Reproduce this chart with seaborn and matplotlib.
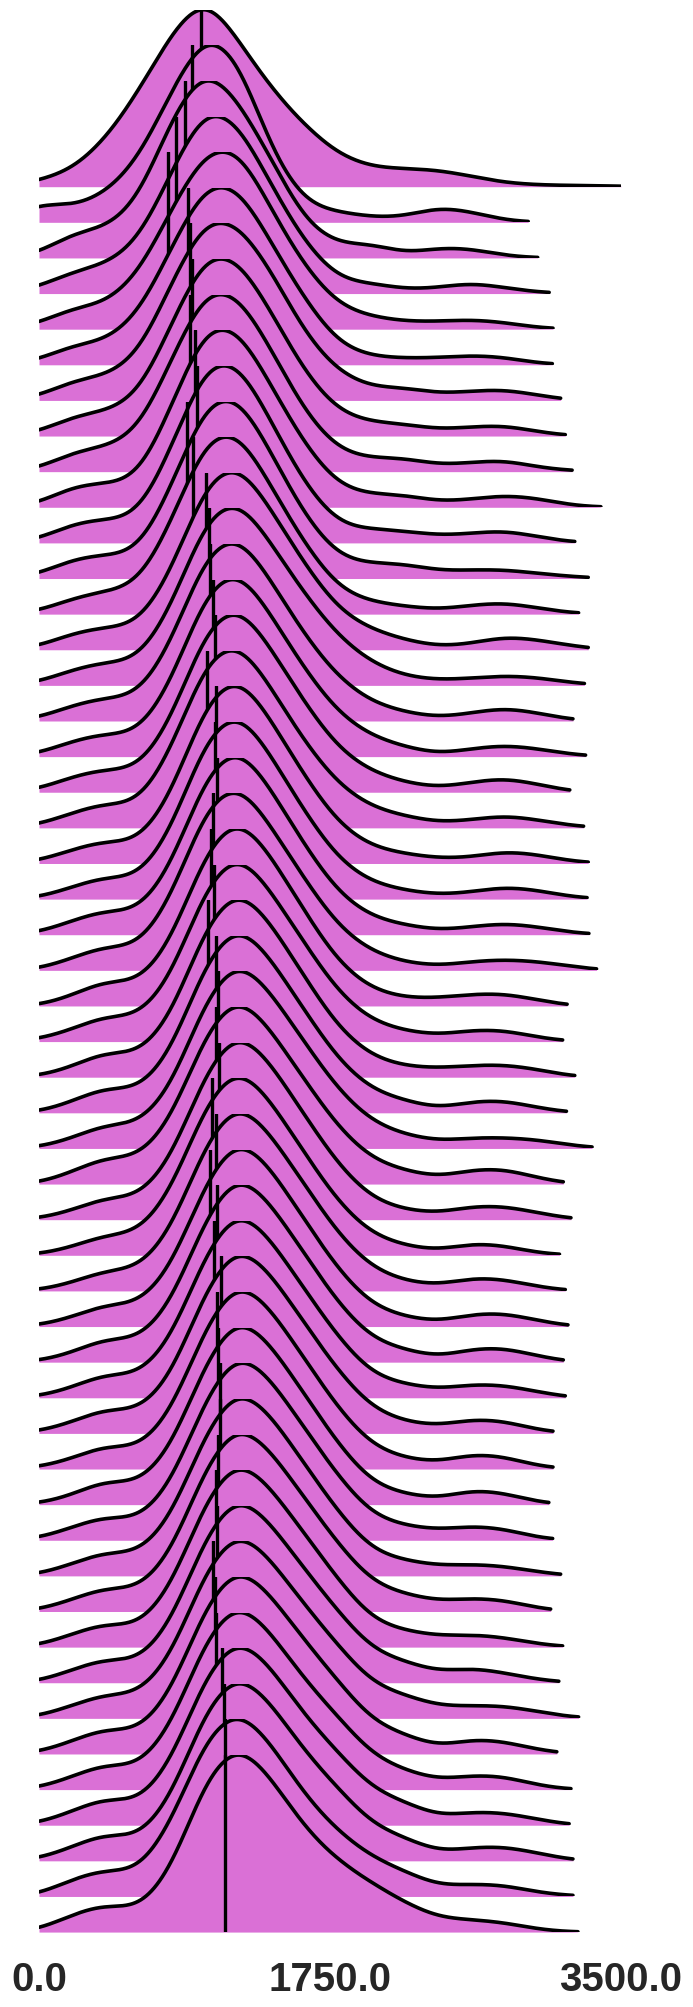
import numpy as np
import seaborn as sns
import matplotlib.pyplot as plt

# support points of every row (same for all), weights per row
support = [0, 200, 400, 600, 800, 1000, 1200, 1400, 1600, 1800,
           2000, 2200, 2400, 2600, 2800, 3000, 3200, 3400]

w01 = [0.03, 0.08, 0.23, 0.47, 0.77, 0.98, 0.72, 0.48, 0.30, 0.155, 0.095, 0.09, 0.084, 0.052, 0.019, 0.009, 0.006, 0.005]
w02 = [0.11, 0.07, 0.14, 0.30, 0.66, 0.98, 0.84, 0.33, 0.08, 0.053, 0.025, 0.025, 0.083, 0.053, 0.008, 0, 0, 0]
w03 = [0.015, 0.13, 0.14, 0.26, 0.70, 0.97, 0.77, 0.48, 0.16, 0.06, 0.077, 0.015, 0.053, 0.047, 0.01, 0, 0, 0]
w04 = [0.03, 0.11, 0.14, 0.24, 0.60, 0.95, 0.85, 0.52, 0.24, 0.06, 0.053, 0.019, 0.028, 0.057, 0.028, 0.006, 0, 0]
w05 = [0.025, 0.11, 0.12, 0.26, 0.60, 0.90, 0.92, 0.58, 0.30, 0.11, 0.062, 0.038, 0.038, 0.049, 0.034, 0.006, 0, 0]
w06 = [0.02, 0.10, 0.11, 0.23, 0.57, 0.90, 0.88, 0.58, 0.31, 0.09, 0.04, 0.032, 0.034, 0.047, 0.038, 0.006, 0, 0]
w07 = [0.015, 0.10, 0.115, 0.20, 0.57, 0.90, 0.86, 0.62, 0.31, 0.13, 0.06, 0.065, 0.03, 0.045, 0.055, 0.025, 0, 0]
w08 = [0.015, 0.10, 0.12, 0.18, 0.55, 0.92, 0.88, 0.60, 0.30, 0.11, 0.068, 0.06, 0.03, 0.045, 0.055, 0.02, 0, 0]
w09 = [0.01, 0.10, 0.12, 0.18, 0.55, 0.92, 0.88, 0.59, 0.28, 0.095, 0.065, 0.07, 0.03, 0.045, 0.06, 0.02, 0.005, 0]
w10 = [0.013, 0.11, 0.12, 0.12, 0.50, 0.93, 0.90, 0.59, 0.30, 0.095, 0.064, 0.064, 0.025, 0.04, 0.062, 0.045, 0.008, 0]
w11 = [0.013, 0.10, 0.12, 0.11, 0.47, 0.92, 0.92, 0.59, 0.28, 0.08, 0.07, 0.06, 0.035, 0.047, 0.065, 0.03, 0.003, 0]
w12 = [0.017, 0.10, 0.12, 0.11, 0.45, 0.90, 0.93, 0.61, 0.30, 0.095, 0.075, 0.075, 0.036, 0.043, 0.045, 0.025, 0.01, 0]
w13 = [0.011, 0.08, 0.115, 0.13, 0.45, 0.90, 0.93, 0.62, 0.34, 0.115, 0.06, 0.04, 0.02, 0.045, 0.06, 0.03, 0.005, 0]
w14 = [0.013, 0.085, 0.115, 0.11, 0.38, 0.86, 0.96, 0.69, 0.42, 0.19, 0.10, 0.05, 0.014, 0.03, 0.07, 0.05, 0.02, 0]
w15 = [0.013, 0.08, 0.12, 0.11, 0.38, 0.86, 0.96, 0.70, 0.45, 0.24, 0.11, 0.045, 0.026, 0.036, 0.05, 0.04, 0.013, 0]
w16 = [0.012, 0.08, 0.12, 0.11, 0.38, 0.86, 0.96, 0.69, 0.42, 0.21, 0.09, 0.045, 0.015, 0.04, 0.07, 0.04, 0.005, 0]
w17 = [0.012, 0.08, 0.12, 0.10, 0.36, 0.85, 0.97, 0.70, 0.43, 0.21, 0.10, 0.05, 0.01, 0.04, 0.06, 0.04, 0.01, 0]
w18 = [0.012, 0.08, 0.12, 0.10, 0.35, 0.84, 0.97, 0.71, 0.44, 0.21, 0.10, 0.05, 0.02, 0.05, 0.075, 0.04, 0.003, 0]
w19 = [0.013, 0.075, 0.13, 0.10, 0.38, 0.86, 0.96, 0.69, 0.42, 0.21, 0.10, 0.06, 0.025, 0.04, 0.065, 0.04, 0.01, 0]
w20 = [0.01, 0.07, 0.12, 0.09, 0.33, 0.83, 0.98, 0.71, 0.43, 0.19, 0.08, 0.05, 0.025, 0.03, 0.065, 0.045, 0.01, 0]
w21 = [0.005, 0.06, 0.12, 0.09, 0.33, 0.83, 0.98, 0.71, 0.43, 0.19, 0.08, 0.045, 0.02, 0.035, 0.065, 0.045, 0.01, 0]
w22 = [0.008, 0.07, 0.13, 0.10, 0.33, 0.82, 0.98, 0.72, 0.44, 0.20, 0.085, 0.05, 0.02, 0.04, 0.06, 0.04, 0.01, 0]
w23 = [0.004, 0.06, 0.13, 0.10, 0.35, 0.84, 0.97, 0.71, 0.45, 0.21, 0.09, 0.04, 0.02, 0.045, 0.055, 0.045, 0.02, 0]
w24 = [0.0, 0.05, 0.14, 0.10, 0.31, 0.80, 0.99, 0.75, 0.47, 0.21, 0.08, 0.04, 0.04, 0.06, 0.065, 0.03, 0, 0]
w25 = [0.01, 0.06, 0.14, 0.11, 0.31, 0.80, 0.99, 0.75, 0.49, 0.24, 0.10, 0.055, 0.03, 0.06, 0.06, 0.02, 0, 0]
w26 = [0.004, 0.05, 0.14, 0.10, 0.29, 0.78, 0.99, 0.77, 0.50, 0.24, 0.10, 0.055, 0.045, 0.06, 0.065, 0.04, 0.003, 0]
w27 = [0.002, 0.055, 0.14, 0.10, 0.29, 0.78, 0.99, 0.77, 0.51, 0.26, 0.11, 0.065, 0.016, 0.06, 0.065, 0.025, 0, 0]
w28 = [0.004, 0.05, 0.13, 0.11, 0.29, 0.77, 0.99, 0.78, 0.53, 0.29, 0.13, 0.07, 0.035, 0.055, 0.055, 0.045, 0.015, 0]
w29 = [0.002, 0.06, 0.145, 0.12, 0.31, 0.78, 0.99, 0.77, 0.52, 0.28, 0.12, 0.07, 0.03, 0.075, 0.08, 0.03, 0, 0]
w30 = [0.004, 0.045, 0.12, 0.10, 0.29, 0.76, 0.99, 0.78, 0.52, 0.27, 0.10, 0.05, 0.03, 0.07, 0.07, 0.035, 0.003, 0]
w31 = [0.004, 0.04, 0.11, 0.10, 0.31, 0.78, 0.99, 0.77, 0.51, 0.26, 0.10, 0.05, 0.02, 0.065, 0.05, 0.01, 0, 0]
w32 = [0.002, 0.04, 0.11, 0.10, 0.29, 0.76, 0.99, 0.78, 0.53, 0.28, 0.11, 0.05, 0.025, 0.07, 0.06, 0.02, 0, 0]
w33 = [0.004, 0.045, 0.12, 0.10, 0.28, 0.74, 0.99, 0.79, 0.53, 0.28, 0.10, 0.05, 0.02, 0.065, 0.07, 0.03, 0, 0]
w34 = [0.004, 0.045, 0.13, 0.10, 0.28, 0.74, 0.99, 0.79, 0.54, 0.29, 0.11, 0.065, 0.02, 0.07, 0.075, 0.03, 0, 0]
w35 = [0.005, 0.05, 0.13, 0.10, 0.28, 0.74, 0.99, 0.79, 0.54, 0.30, 0.11, 0.07, 0.04, 0.07, 0.065, 0.03, 0, 0]
w36 = [0.008, 0.055, 0.135, 0.10, 0.27, 0.74, 0.99, 0.80, 0.55, 0.31, 0.12, 0.06, 0.035, 0.075, 0.065, 0.015, 0, 0]
w37 = [0.008, 0.05, 0.13, 0.09, 0.27, 0.73, 0.99, 0.80, 0.55, 0.30, 0.11, 0.055, 0.03, 0.08, 0.065, 0.012, 0, 0]
w38 = [0.004, 0.045, 0.135, 0.09, 0.27, 0.73, 0.99, 0.80, 0.55, 0.30, 0.10, 0.055, 0.025, 0.08, 0.06, 0.01, 0, 0]
w39 = [0.008, 0.065, 0.13, 0.09, 0.27, 0.73, 0.99, 0.81, 0.56, 0.32, 0.12, 0.075, 0.05, 0.075, 0.06, 0.01, 0, 0]
w40 = [0.006, 0.06, 0.13, 0.10, 0.28, 0.74, 0.99, 0.81, 0.56, 0.32, 0.12, 0.08, 0.05, 0.06, 0.05, 0.02, 0, 0]
w41 = [0.006, 0.06, 0.13, 0.10, 0.28, 0.75, 0.99, 0.81, 0.57, 0.34, 0.14, 0.09, 0.05, 0.07, 0.06, 0.015, 0, 0]
w42 = [0.006, 0.065, 0.13, 0.09, 0.29, 0.76, 0.99, 0.80, 0.57, 0.34, 0.13, 0.085, 0.055, 0.065, 0.05, 0.015, 0, 0]
w43 = [0.004, 0.065, 0.13, 0.095, 0.29, 0.76, 0.99, 0.80, 0.57, 0.36, 0.16, 0.11, 0.05, 0.08, 0.05, 0.015, 0, 0]
w44 = [0.008, 0.065, 0.13, 0.11, 0.30, 0.77, 0.99, 0.80, 0.57, 0.37, 0.17, 0.12, 0.06, 0.065, 0.065, 0.035, 0.005, 0]
w45 = [0.006, 0.065, 0.14, 0.10, 0.30, 0.77, 0.99, 0.80, 0.57, 0.37, 0.16, 0.10, 0.03, 0.08, 0.065, 0.02, 0, 0]
w46 = [0.006, 0.065, 0.14, 0.10, 0.31, 0.78, 0.99, 0.79, 0.55, 0.37, 0.17, 0.10, 0.045, 0.075, 0.07, 0.02, 0, 0]
w47 = [0.008, 0.07, 0.15, 0.10, 0.31, 0.78, 0.99, 0.80, 0.55, 0.37, 0.18, 0.12, 0.04, 0.07, 0.065, 0.03, 0, 0]
w48 = [0.008, 0.07, 0.15, 0.10, 0.31, 0.79, 0.99, 0.80, 0.55, 0.37, 0.18, 0.12, 0.04, 0.07, 0.075, 0.04, 0.003, 0]
w49 = [0.006, 0.09, 0.145, 0.11, 0.37, 0.83, 0.99, 0.78, 0.51, 0.33, 0.20, 0.13, 0.05, 0.065, 0.06, 0.02, 0.003, 0]
w50 = [0.008, 0.09, 0.15, 0.10, 0.30, 0.80, 0.99, 0.78, 0.52, 0.36, 0.25, 0.15, 0.07, 0.064, 0.05, 0.013, 0, 0]

# largest value of each row (where its ridge stops)
row_end = [3500, 2942, 2999, 3068, 3091, 3087, 3137, 3165, 3206, 3379,
           3222, 3303, 3245, 3303, 3280, 3211, 3287, 3192, 3275, 3303,
           3296, 3307, 3353, 3176, 3149, 3222, 3172, 3326, 3153, 3199,
           3130, 3165, 3181, 3153, 3165, 3091, 3091, 3066, 3089, 3137,
           3077, 3149, 3126, 3245, 3114, 3199, 3188, 3211, 3211, 3241]

# median of each row
row_median = [973, 918, 881, 826, 773, 899, 911, 922, 906, 938,
              950, 892, 929, 1007, 1021, 1026, 1049, 1060, 1010, 1067,
              1056, 1072, 1044, 1033, 1053, 1019, 1065, 1076, 1065, 1083,
              1040, 1065, 1030, 1072, 1053, 1095, 1072, 1079, 1088, 1088,
              1076, 1065, 1070, 1049, 1056, 1067, 1102, 1113, 1118, 1118]

xticks = [0, 1750, 3500]
xtick_labels = ["0.0", "1750.0", "3500.0"]

rows = [w01, w02, w03, w04, w05, w06, w07, w08, w09, w10,
        w11, w12, w13, w14, w15, w16, w17, w18, w19, w20,
        w21, w22, w23, w24, w25, w26, w27, w28, w29, w30,
        w31, w32, w33, w34, w35, w36, w37, w38, w39, w40,
        w41, w42, w43, w44, w45, w46, w47, w48, w49, w50]

sns.set_theme(style="white")
plt.rcParams['font.family'] = ['Liberation Sans', 'DejaVu Sans']

W, H = 693, 2008
fig = plt.figure(figsize=(W / 100, H / 100), dpi=100)

x = np.array(support, dtype=float)
n = len(rows)
for i, w in enumerate(rows):
    base = 187.7 + 35.62 * i   # baseline, px from top
    ax = fig.add_axes([39 / W, (H - base) / H, 582 / W, 177 / H])
    w = np.array(w, dtype=float)
    mu = np.average(x, weights=w)
    sd = np.sqrt(np.average((x - mu) ** 2, weights=w))
    bw = 130 / sd  # kernel of ~130 units
    sns.kdeplot(x=x, weights=w, bw_method=bw, clip=(0, row_end[i]),
                gridsize=600, fill=True, color="orchid", alpha=1,
                linewidth=0, ax=ax)
    sns.kdeplot(x=x, weights=w, bw_method=bw, clip=(0, row_end[i]),
                gridsize=600, color="black", linewidth=2.6, ax=ax)
    top = ax.lines[-1].get_ydata().max()
    ax.axvline(row_median[i], color="black", linewidth=2.4)
    ax.set_xlim(0, 3500)
    ax.set_ylim(0, top)
    ax.set_xlabel("")
    ax.set_ylabel("")
    if i < n - 1:
        ax.set_axis_off()
    else:
        ax.patch.set_visible(False)
        ax.set_yticks([])
        ax.set_xticks(xticks)
        ax.set_xticklabels(xtick_labels, fontsize=29, fontweight="bold")
        ax.tick_params(axis="x", length=0, pad=20, colors=".15")
        sns.despine(ax=ax, left=True, bottom=True)

plt.savefig("out.png", dpi=100)
